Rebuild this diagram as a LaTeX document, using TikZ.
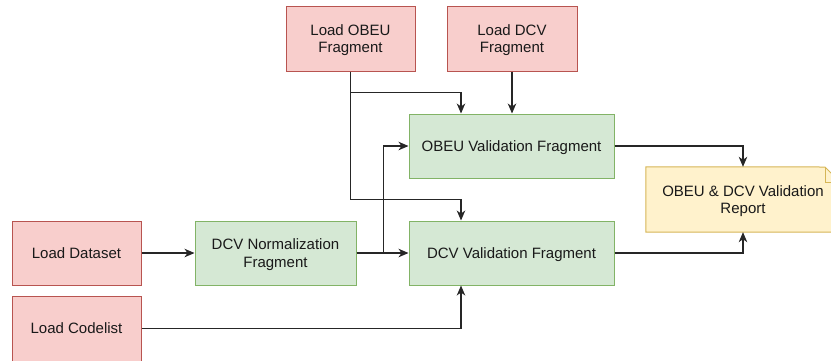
\documentclass[tikz,border=0pt]{standalone}
\usepackage{fontspec}
\setmainfont{Liberation Sans}
\usetikzlibrary{arrows.meta,calc}
\definecolor{redfill}{HTML}{F8CECC}
\definecolor{redline}{HTML}{B85450}
\definecolor{greenfill}{HTML}{D5E8D4}
\definecolor{greenline}{HTML}{82B366}
\definecolor{yellowfill}{HTML}{FFF2CC}
\definecolor{yellowline}{HTML}{D6B656}
\tikzset{
  labelfont/.style={font=\fontsize{15}{17.5}\selectfont, text=black!90},
  box/.style={draw, line width=1pt, align=center, inner sep=2pt, text depth=0pt, labelfont},
  loadbox/.style={box, fill=redfill, draw=redline},
  fragbox/.style={box, fill=greenfill, draw=greenline},
  arr/.style={draw=black!85, line width=1.1pt, -{Stealth[length=10pt,width=8.5pt,inset=3pt]}},
}
\begin{document}
\begin{tikzpicture}[x=1pt,y=-1pt]
\useasboundingbox (0,0) rectangle (831,360);
\clip (0,0) rectangle (831,360);

% source loaders
\node[loadbox, minimum width=129pt, minimum height=65pt] (lobeu) at (350.5,38.5) {Load OBEU\\Fragment};
\node[loadbox, minimum width=130pt, minimum height=65pt] (ldcv) at (512,38.5) {Load DCV\\Fragment};
\node[loadbox, minimum width=129pt, minimum height=64pt] (lds) at (76.5,253) {Load Dataset};
\node[loadbox, minimum width=129pt, minimum height=65pt] (lcl) at (76.5,328.5) {Load Codelist};

% processing fragments
\node[fragbox, minimum width=161pt, minimum height=64pt] (norm) at (275.5,253) {DCV Normalization\\Fragment};
\node[fragbox, minimum width=205pt, minimum height=64pt] (obeuv) at (511.5,146) {OBEU Validation Fragment};
\node[fragbox, minimum width=205pt, minimum height=64pt] (dcvv) at (511.5,253) {DCV Validation Fragment};

% report note with folded corner
\node[inner sep=0pt, minimum width=194pt, minimum height=65pt] (report) at (743,199.5) {};
\filldraw[fill=yellowfill, draw=yellowline, line width=1pt]
  (report.north west) -- (825,167) -- (840,182) -- (report.south east) -- (report.south west) -- cycle;
\draw[yellowline, line width=1pt] (825,167) -- (825,182) -- (840,182);
\node[align=center, labelfont, text depth=0pt] at (report.center) {OBEU \& DCV Validation\\Report};

% connectors
\draw[arr] (lobeu.south) -- ++(0,21) -| ($(obeuv.north)+(-50.5,0)$);
\draw[arr] (lobeu.south) |- ($(dcvv.north)+(-50.5,-21)$) -- ($(dcvv.north)+(-50.5,0)$);
\draw[arr] (ldcv.south) -- (ldcv.south |- obeuv.north);
\draw[arr] (lds.east) -- (norm.west);
\draw[arr] (norm.east) -- (dcvv.west);
\draw[arr] (norm.east) -- ++(27,0) |- (obeuv.west);
\draw[arr] (lcl.east) -| ($(dcvv.south)+(-50.5,0)$);
\draw[arr] (obeuv.east) -| (report.north);
\draw[arr] (dcvv.east) -| (report.south);
\end{tikzpicture}
\end{document}
